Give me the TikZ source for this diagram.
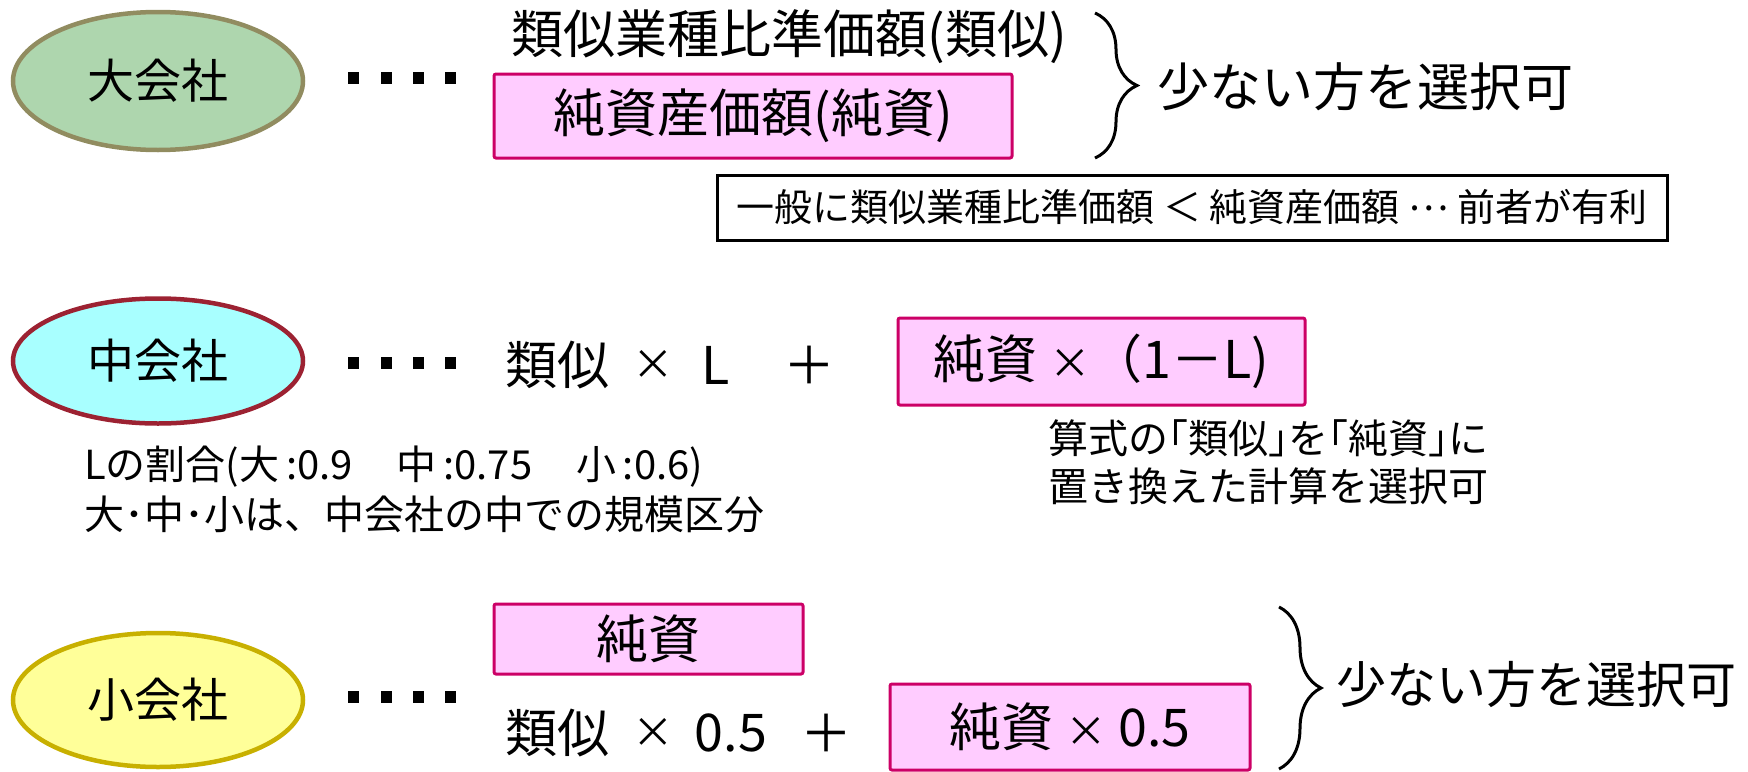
\documentclass[tikz,border=0pt]{standalone}
\usepackage{fontspec}
\setmainfont{Noto Sans CJK JP}
\usetikzlibrary{shapes.geometric,decorations.pathreplacing}
\definecolor{lgfill}{HTML}{AED6AE}
\definecolor{lgline}{HTML}{918C60}
\definecolor{cyfill}{HTML}{A8FFFF}
\definecolor{cyline}{HTML}{9C2232}
\definecolor{yefill}{HTML}{FFFF99}
\definecolor{yeline}{HTML}{C8B000}
\definecolor{pkfill}{HTML}{FFCCFF}
\definecolor{pkline}{HTML}{CC0066}
\newcommand{\smx}{\scalebox{0.8}{×}}
\begin{document}
\begin{tikzpicture}[x=1pt,y=-1pt,
  company/.style={ellipse, draw, line width=4.5pt, minimum width=290pt, inner sep=0pt, font=\fontsize{47}{52}\selectfont},
  pinkbox/.style={draw=pkline, fill=pkfill, line width=3pt, rounded corners=2pt, inner sep=0pt, font=\fontsize{52}{60}\selectfont},
  big/.style={inner sep=0pt, font=\fontsize{52}{60}\selectfont},
  note/.style={inner sep=0pt, anchor=west, font=\fontsize{40}{48}\selectfont},
  brc/.style={decorate, decoration={brace, amplitude=42pt}, line width=3pt}]
\useasboundingbox (0,0) rectangle (1748,771);
% ---------- row 1 ----------
\node[company, fill=lgfill, draw=lgline, minimum height=138pt] (big) at (158,81) {大会社};
\foreach \x in {353,386,418,450} \fill (\x-5.5,72) rectangle ++(11,12);
\node[big] (ruiji1) at (789,37) {類似業種比準価額(類似)};
\node[pinkbox, minimum width=518pt, minimum height=84pt] (jun1) at (753,116) {純資産価額(純資)};
\coordinate (b1t) at (1095,13);
\coordinate (b1b) at (1095,158);
\draw[brc] (b1t) -- (b1b);
\node[big, anchor=west] (sel1) at (1157,87) {少ない方を選択可};
\node[draw, line width=3pt, minimum width=950pt, minimum height=65pt, inner sep=0pt, font=\fontsize{38}{44}\selectfont] (gen) at (1192,207.5) {一般に類似業種比準価額 ＜ 純資産価額 \raisebox{0.3em}{…} 前者が有利};
% ---------- row 2 ----------
\node[company, fill=cyfill, draw=cyline, minimum height=125pt] (mid) at (158,361) {中会社};
\foreach \x in {353,386,418,450} \fill (\x-5.5,357) rectangle ++(11,12);
\node[big] (r2a) at (557,365) {類似};
\node[big] (r2x) at (653,365) {\smx};
\node[big] (r2L) at (716,365) {L};
\node[big] (r2p) at (809,365) {＋};
\node[pinkbox, minimum width=407pt, minimum height=87pt] (jun2) at (1101.5,361.5) {純資 \smx（1－L)};
\node[note] (n1) at (84,467) {Lの割合(大\,:0.9\hspace{1.1em}中\,:0.75\hspace{1.1em}小\,:0.6)};
\node[note] (n2) at (84,514) {大･中･小は、中会社の中での規模区分};
\node[note] (n3) at (1048,438) {算式の｢類似｣を｢純資｣に};
\node[note] (n4) at (1048,486) {置き換えた計算を選択可};
% ---------- row 3 ----------
\node[company, fill=yefill, draw=yeline, minimum height=134pt] (small) at (158,700) {小会社};
\foreach \x in {353,386,418,450} \fill (\x-5.5,691) rectangle ++(11,12);
\node[pinkbox, minimum width=309pt, minimum height=70pt] (jun3) at (648.5,639) {純資};
\node[big] (r3a) at (557,733) {類似};
\node[big] (r3x) at (653,733) {\smx};
\node[big] (r3n) at (731,733) {0.5};
\node[big] (r3p) at (826,733) {＋};
\node[pinkbox, minimum width=360pt, minimum height=86pt] (jun4) at (1070,727) {純資 \smx\ 0.5};
\coordinate (b2t) at (1279,607);
\coordinate (b2b) at (1279,769);
\draw[brc] (b2t) -- (b2b);
\node[big, anchor=west, font=\fontsize{50}{58}\selectfont] (sel2) at (1336,685) {少ない方を選択可};
\end{tikzpicture}
\end{document}
